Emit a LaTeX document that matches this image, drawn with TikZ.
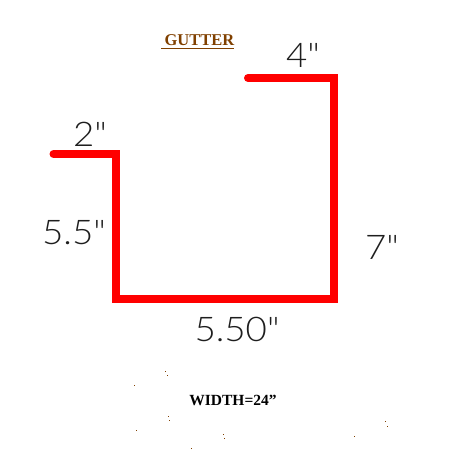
\documentclass[tikz,border=0pt]{standalone}
\usepackage{fontspec}
\setmainfont{Liberation Serif}
\newfontfamily\dimfont[FakeStretch=1.08]{Lato Light}
\definecolor{gutterred}{RGB}{255,0,0}
\definecolor{titlebrown}{RGB}{128,64,0}
\definecolor{ink}{RGB}{30,30,30}
\tikzset{
  profile/.style={draw=gutterred,line width=8pt,line join=miter,line cap=round},
  dimlabel/.style={inner sep=0pt,text=ink,font=\dimfont\fontsize{34}{34}\selectfont},
  titlelabel/.style={inner sep=0pt,text=titlebrown,font=\bfseries\fontsize{16.5}{16.5}\selectfont},
  widthlabel/.style={inner sep=0pt,text=black,font=\bfseries\fontsize{15.5}{15.5}\selectfont},
  speck/.style={fill=titlebrown,draw=none,minimum size=1pt,inner sep=0pt}
}
\begin{document}
\begin{tikzpicture}[x=1pt,y=-1pt]
\useasboundingbox (0,0) rectangle (471,460);
\coordinate (a) at (53.5,154);
\coordinate (b) at (115.5,154);
\coordinate (c) at (115.5,299);
\coordinate (d) at (334,299);
\coordinate (e) at (334,78);
\coordinate (f) at (248,78);
\draw[profile] (a) -- (b) -- (c) -- (d) -- (e) -- (f);
\node[titlelabel,anchor=center] (title) at (199.5,40) {GUTTER};
\coordinate (ul) at (161,48.5);
\coordinate (ur) at (234,48.5);
\draw[titlebrown,line width=1pt] (ul) -- (ur);
\node[dimlabel] (four) at (303,55) {4"};
\node[dimlabel] (two) at (90,134) {2"};
\node[dimlabel] (fivefive) at (74,233) {5.5"};
\node[dimlabel] (seven) at (382,247) {7"};
\node[dimlabel] (fivefifty) at (237,329) {5.50"};
\node[widthlabel] (width) at (233,400) {WIDTH=24"};
\foreach \n/\x/\y in {s1/165/371,s2/167/375,s3/134/385,s4/168/416,s5/169/420,s6/136/430,s7/223/434,s8/224/438,s9/191/448,s10/354/436,s11/385/421,s12/387/426}
  \node[speck] (\n) at (\x,\y) {};
\end{tikzpicture}
\end{document}
